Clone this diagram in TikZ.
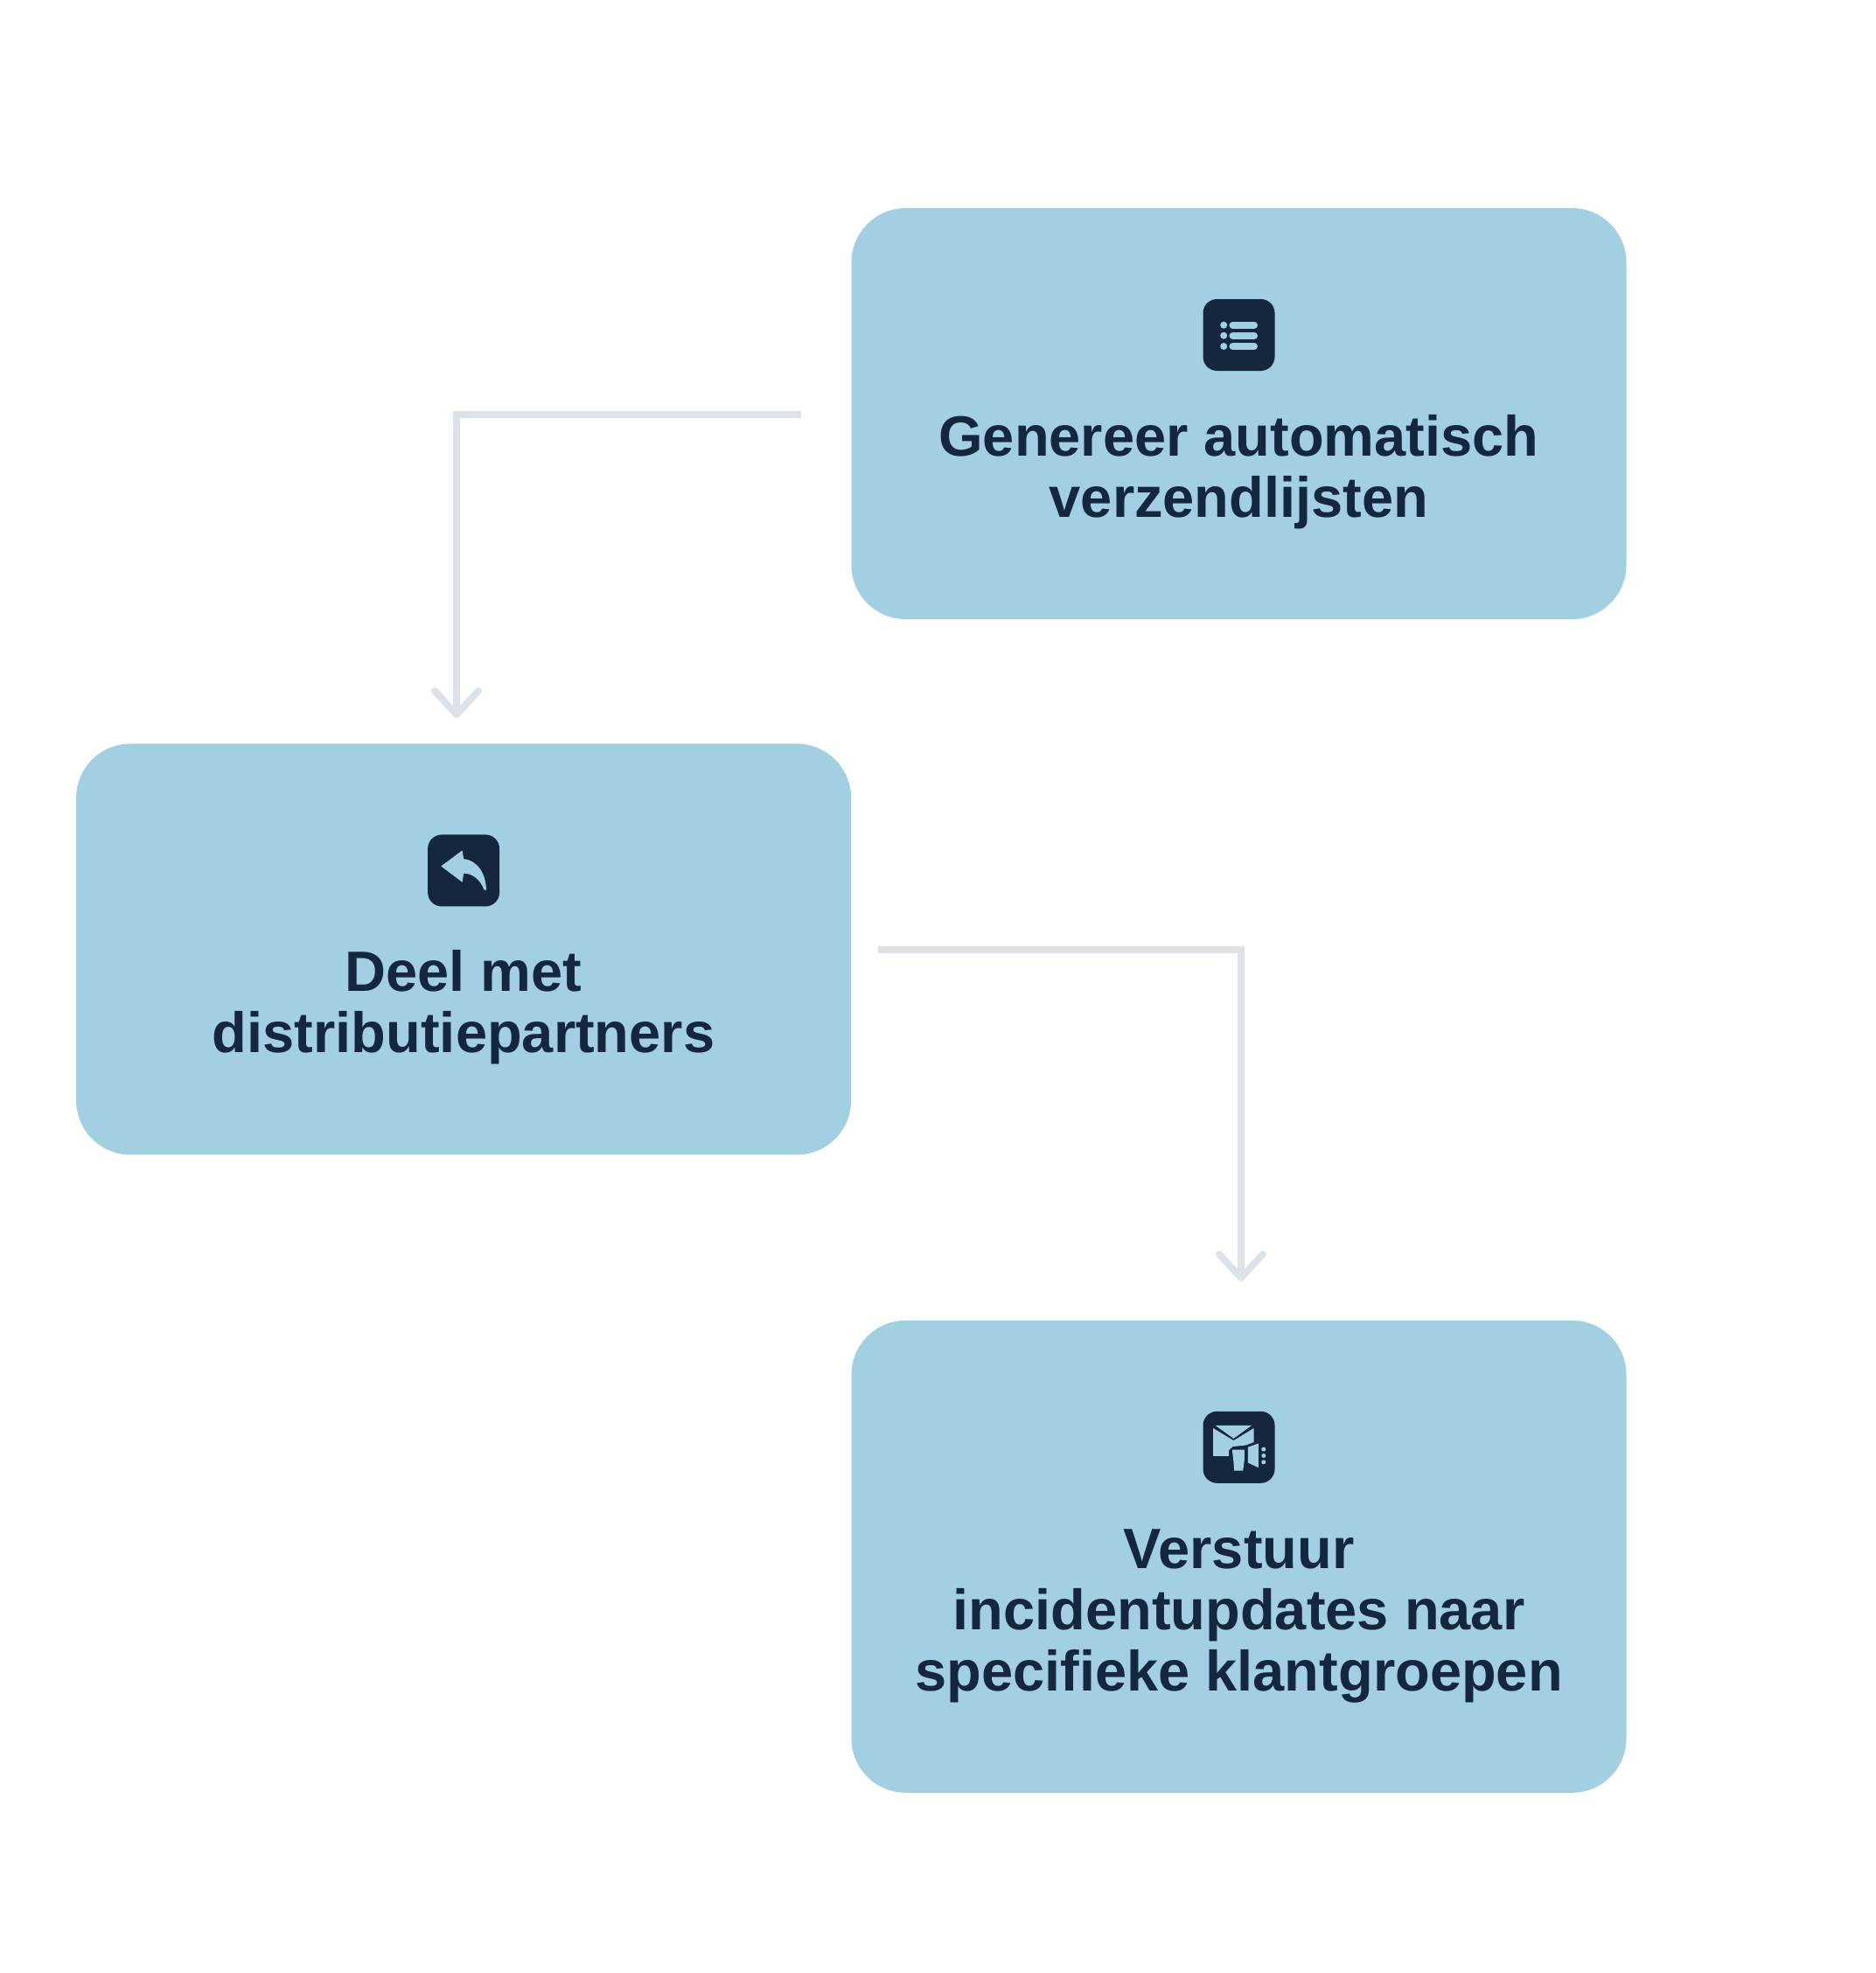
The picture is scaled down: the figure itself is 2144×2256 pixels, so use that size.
\documentclass[tikz,border=0pt]{standalone}
\usepackage{fontspec}
\setmainfont{Liberation Sans}
\usetikzlibrary{calc,positioning,arrows.meta}
\definecolor{boxblue}{HTML}{A2D0E2}
\definecolor{inkblue}{HTML}{15273F}
\definecolor{linegrey}{HTML}{DDE2E9}
\tikzstyle{arrow} = [line width=8pt, draw=linegrey, -{Straight Barb[round,length=27pt,width=50pt]}]
\tikzstyle{glyph} = [fill=boxblue, draw=none]
\tikzstyle{bar} = [draw=boxblue, line width=8pt, line cap=round]

\begin{document}
\begin{tikzpicture}[x=1pt,y=1pt]
\tikzset{%
	block/.style = { rectangle, rounded corners=62pt, fill=boxblue, minimum width=886pt, inner sep=0pt},
	icon/.style = { rectangle, rounded corners=16pt, fill=inkblue, minimum width=82pt, minimum height=82pt, inner sep=0pt},
	label/.style = { inner sep=0pt, align=center, text=inkblue, font=\fontsize{65}{70}\selectfont\bfseries}
}
\useasboundingbox (0,0) rectangle (2144,-2256);

\node(BlockA)		[block, minimum height=470pt] at (1416.5,-473) {};
\node(BlockB)		[block, minimum height=470pt, below left=142pt and 0pt of BlockA.south west] {};
\node(BlockC)		[block, minimum height=540pt, below right=189pt and 0pt of BlockB.south east] {};

\node(IconA)		[icon, below=104pt of BlockA.north] {};
\node(IconB)		[icon, below=104pt of BlockB.north] {};
\node(IconC)		[icon, below=104pt of BlockC.north] {};

\node(TextA)		[label, below=50pt of IconA.south]
						{Genereer automatisch\\verzendlijsten};
\node(TextB)		[label, below=50pt of IconB.south]
						{Deel met\\distributiepartners};
\node(TextC)		[label, below=53pt of IconC.south]
						{Verstuur\\incidentupdates naar\\specifieke klantgroepen};

\coordinate(StartA)	at (916,-474);
\coordinate(EndA)	at (522,-821);
\coordinate(StartB)	at (1004,-1086);
\coordinate(EndB)	at (1419,-1465);

\draw [arrow]	(StartA) -| (EndA);
\draw [arrow]	(StartB) -| (EndB);

% list icon
\begin{scope}[shift={(IconA.center)}]
	\foreach \y in {11.3,-0.7,-13} {
		\fill [glyph] (-17.3,\y) circle (4);
		\draw [bar] (-7,\y) -- (17.5,\y);
	}
\end{scope}

% reply icon
\begin{scope}[shift={(IconB.center)}]
	\fill [glyph] (-25.8,5) -- (-1.5,23) -- (0,13.3)
		.. controls (16.5,11.7) and (25.8,-5) .. (25.8,-22.3) -- (23.5,-22.3)
		.. controls (19,-10) and (10,-3.3) .. (0,-3.3) -- (-1.5,-13.3) -- cycle;
\end{scope}

% mail and megaphone icon
\begin{scope}[shift={(IconC.center)}]
	\fill [glyph] (-27,25) -- (14.7,25) -- (-6,10) -- cycle;
	\fill [glyph] (-29.3,21.7) -- (-6,7.7) -- (17,21.7) -- (17,5.7) -- (8,2.3) -- (-7,0.7)
		-- (-11.3,-3.3) -- (-11.3,-10) -- (-29.3,-10) -- cycle;
	\fill [glyph] (-7.7,-2.7) -- (6.3,-2.7) -- (6.3,-15) -- (4.7,-26.7) -- (-5.3,-26.7) -- (-6.3,-15) -- cycle;
	\fill [glyph] (10.3,0) -- (22.3,4.3) -- (22.3,-23.3) -- (10.3,-17.7) -- cycle;
	\foreach \y in {-2.3,-9.7,-17} {
		\fill [glyph] (28.3,\y) circle (2.5);
	}
\end{scope}
\end{tikzpicture}
\end{document}
